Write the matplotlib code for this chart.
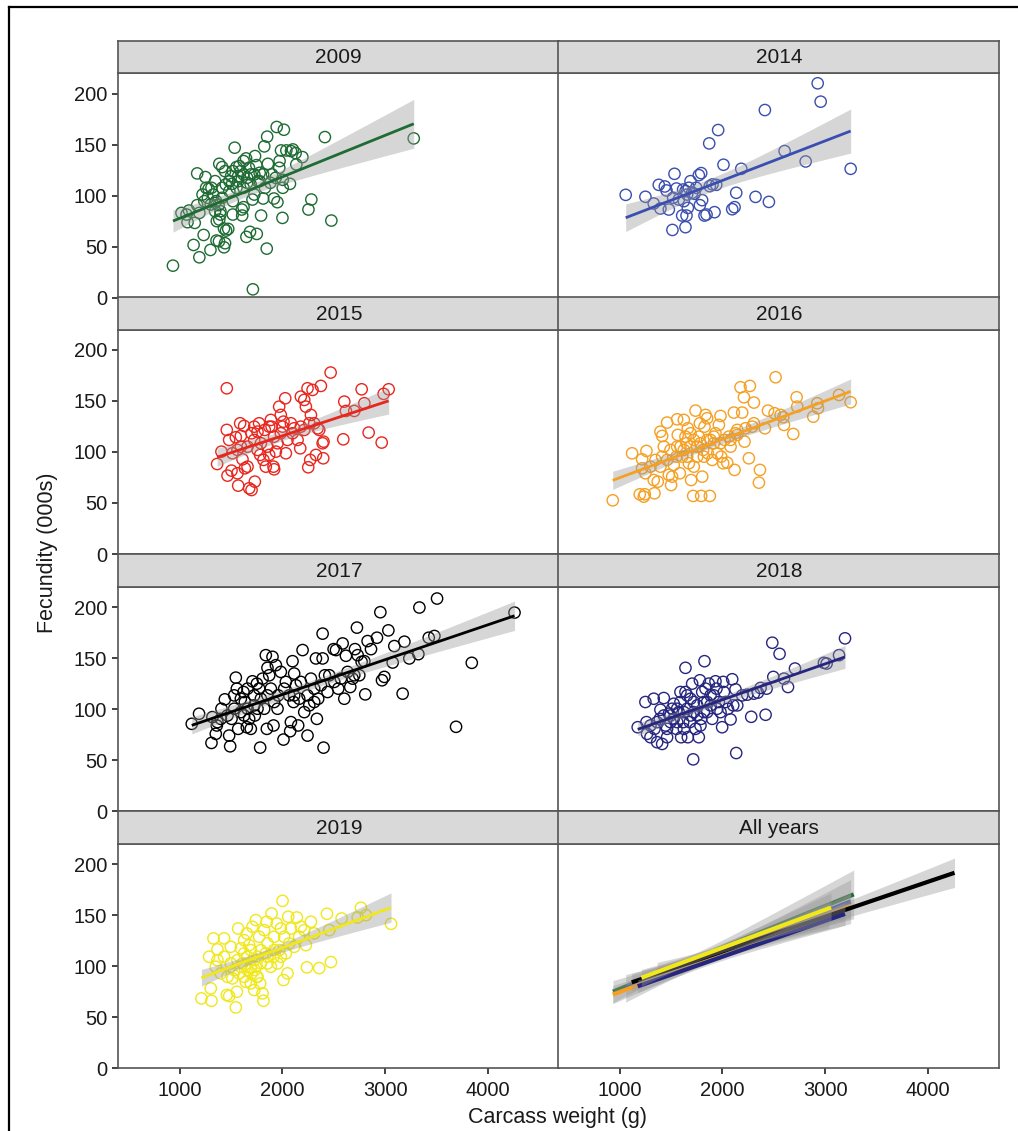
import matplotlib.pyplot as plt
import numpy as np
from matplotlib.lines import Line2D

plt.rcParams["font.family"] = ["Liberation Sans", "DejaVu Sans"]

# carcass weight (g) and fecundity (000s) per sampling year
wt_2009 = [934, 1017, 1066, 1090, 1076, 1146, 1170, 1250, 1135, 1191, 1233, 1299, 1358, 1382,
           1431, 1441, 1451, 1431, 1472, 1170, 1191, 1222, 1257, 1281, 1309, 1344, 1385, 1413,
           1441, 1483, 1510, 1535, 1552, 1580, 1594, 1621, 1646, 1674, 1656, 1691, 1733, 1746,
           1778, 1823, 1851, 1858, 1899, 1944, 2014, 1986, 2038, 2083, 2101, 2128, 2135, 2194,
           1972, 2003, 2073, 2003, 1934, 1969, 1917, 1951, 1812, 1708, 1726, 1621, 1604, 1517,
           1608, 1792, 2000, 1649, 1684, 1750, 1847, 1712, 2253, 2281, 2476, 2413, 3278, 1354,
           1378, 1396, 1326, 1274, 1240, 1483, 1552, 1517, 1413, 1448, 1691, 1760, 1830, 1882,
           1569, 1500, 1396, 1361, 1385, 1344, 1302, 1517, 1569, 1621, 1656, 1726, 1778, 1812,
           1621, 1413, 1344]
fec_2009 = [31.4, 83.1, 81.5, 85.4, 74.0, 73.3, 121.8, 118.2, 51.7, 39.6, 61.5, 46.8, 56.0, 55.3,
            49.4, 53.4, 65.8, 67.8, 67.4, 90.7, 83.1, 101.1, 107.7, 106.7, 107.7, 114.2, 131.2, 128.0,
            124.0, 114.2, 111.6, 147.0, 128.0, 129.0, 124.0, 133.9, 136.5, 127.3, 117.5, 120.8, 138.8, 129.9,
            122.4, 148.3, 157.8, 131.2, 120.8, 167.3, 164.6, 144.3, 144.3, 143.7, 145.3, 141.7, 130.6, 137.8,
            133.9, 115.5, 111.6, 107.7, 117.5, 127.3, 97.2, 93.6, 97.2, 96.2, 101.1, 88.7, 86.4, 81.5,
            80.5, 80.5, 78.2, 59.6, 64.5, 62.5, 48.1, 8.2, 86.4, 96.2, 75.6, 157.4, 156.1, 94.6,
            90.7, 84.8, 101.1, 97.9, 94.6, 104.4, 107.7, 94.6, 107.7, 111.0, 111.0, 114.2, 107.7, 112.6,
            119.1, 119.1, 81.5, 75.0, 76.6, 84.8, 91.3, 124.0, 114.2, 120.8, 112.6, 120.8, 114.2, 120.8,
            107.7, 97.9, 92.9]

wt_2014 = [1058, 1250, 1331, 1380, 1439, 1455, 1533, 1552, 1617, 1640, 1656, 1689, 1705, 1728,
           1770, 1793, 1520, 1478, 1396, 1608, 1650, 1640, 1513, 1663, 1780, 1802, 1825, 1845,
           1923, 1877, 1903, 1939, 1871, 1958, 2010, 2134, 2183, 2095, 2118, 2322, 2452, 2413,
           2605, 2810, 2927, 2956, 3248, 1624, 1575, 1673, 1744]
fec_2014 = [100.8, 98.9, 92.3, 110.6, 109.0, 105.1, 121.4, 107.0, 106.0, 104.4, 101.1, 114.2, 102.8, 101.8,
            120.1, 122.1, 97.9, 86.4, 87.4, 80.5, 80.5, 69.1, 66.4, 88.0, 90.7, 95.6, 80.5, 81.5,
            83.8, 109.3, 111.0, 110.6, 151.2, 164.3, 130.3, 102.8, 126.3, 86.7, 88.7, 98.8, 93.9, 183.9,
            143.7, 133.5, 210.1, 192.1, 126.3, 94.6, 96.2, 107.7, 107.7]

wt_2015 = [1364, 1406, 1458, 1458, 1465, 1481, 1504, 1546, 1562, 1569, 1588, 1595, 1611, 1627,
           1634, 1660, 1676, 1699, 1731, 1699, 1725, 1757, 1773, 1783, 1815, 1828, 1838, 1871,
           1887, 1894, 1913, 1919, 1936, 1952, 1968, 1984, 2001, 2010, 2027, 2033, 2049, 2082,
           2098, 2114, 2147, 2173, 2179, 2212, 2228, 2244, 2251, 2270, 2277, 2293, 2309, 2326,
           2342, 2358, 2374, 2391, 2397, 2400, 2469, 2592, 2602, 2618, 2699, 2771, 2797, 2839,
           2966, 2985, 3034, 1725, 1790, 1854, 1919, 1660, 1562, 1513, 1757, 1984, 2179, 2212,
           2261, 1871, 1595]
fec_2015 = [88.2, 100.3, 121.6, 162.4, 76.8, 111.8, 81.7, 114.4, 79.1, 67.0, 128.1, 115.7, 92.8, 125.5,
            84.0, 85.6, 64.4, 62.7, 70.9, 118.3, 124.8, 119.9, 128.1, 97.1, 92.2, 121.6, 85.6, 97.1,
            131.4, 124.8, 85.6, 83.0, 100.3, 108.5, 144.4, 136.3, 124.8, 129.7, 152.6, 98.7, 111.8, 128.1,
            118.3, 123.2, 111.8, 103.6, 154.2, 151.0, 144.4, 162.4, 85.0, 92.2, 136.3, 160.8, 128.1, 97.1,
            123.2, 121.6, 164.7, 108.5, 93.8, 110.1, 177.8, 112.4, 149.3, 140.2, 140.2, 161.4, 147.7, 119.0,
            109.2, 156.9, 161.4, 111.8, 108.5, 105.2, 115.0, 105.2, 102.0, 98.7, 102.0, 118.3, 124.8, 121.6,
            128.1, 124.8, 105.2]

wt_2016 = [932, 1120, 1195, 1218, 1234, 1244, 1260, 1218, 1250, 1331, 1338, 1370, 1348, 1396,
           1413, 1429, 1413, 1461, 1478, 1500, 1510, 1526, 1552, 1559, 1565, 1585, 1608, 1624,
           1640, 1650, 1663, 1673, 1689, 1695, 1715, 1721, 1738, 1754, 1770, 1780, 1793, 1803,
           1812, 1825, 1835, 1851, 1858, 1877, 1884, 1900, 1916, 1932, 1949, 1965, 1981, 1988,
           2007, 2020, 2046, 2062, 2079, 2111, 2118, 2127, 2144, 2176, 2192, 2209, 2215, 2225,
           2257, 2267, 2290, 2306, 2306, 2365, 2355, 2413, 2443, 2517, 2508, 2566, 2592, 2599,
           2689, 2722, 2728, 2884, 2923, 2930, 3135, 3248, 1559, 1494, 1624, 1786, 1851, 1916,
           1721, 1689, 1981, 2144, 2079, 1461, 1299, 1396, 1591, 1754, 1819, 1656]
fec_2016 = [52.6, 98.7, 58.5, 92.8, 56.2, 58.5, 101.0, 84.0, 79.1, 72.5, 59.5, 70.9, 92.2, 119.9,
            115.7, 105.2, 95.4, 128.8, 77.5, 67.6, 75.8, 87.3, 95.4, 132.0, 116.7, 79.1, 95.4, 131.4,
            115.0, 108.5, 123.2, 88.9, 105.2, 72.5, 56.9, 85.6, 140.5, 95.4, 115.0, 128.1, 56.9, 75.8,
            102.0, 124.8, 136.3, 133.0, 98.7, 56.9, 111.8, 92.2, 108.5, 118.3, 98.7, 126.5, 135.3, 95.4,
            88.9, 111.8, 89.5, 115.0, 111.8, 138.6, 82.4, 118.3, 116.7, 163.4, 138.6, 153.6, 110.1, 123.2,
            93.8, 164.7, 124.8, 148.4, 128.1, 82.4, 69.9, 123.2, 140.5, 173.2, 137.9, 136.3, 134.0, 126.5,
            117.6, 153.6, 144.4, 134.6, 147.7, 142.8, 155.9, 148.7, 105.2, 102.0, 102.0, 108.5, 111.8, 115.0,
            111.8, 118.3, 108.5, 121.6, 105.2, 92.2, 85.6, 85.6, 105.2, 105.2, 95.4, 95.4]

wt_2017 = [1117, 1188, 1318, 1309, 1351, 1361, 1406, 1439, 1481, 1491, 1504, 1530, 1546, 1556,
           1569, 1595, 1621, 1634, 1653, 1676, 1692, 1708, 1725, 1731, 1751, 1773, 1783, 1806,
           1822, 1838, 1848, 1854, 1871, 1887, 1903, 1913, 1919, 1936, 1958, 1984, 2010, 2033,
           2066, 2075, 2082, 2098, 2108, 2114, 2131, 2153, 2163, 2179, 2196, 2212, 2244, 2261,
           2277, 2309, 2326, 2335, 2348, 2374, 2391, 2391, 2400, 2413, 2439, 2456, 2498, 2521,
           2543, 2586, 2602, 2618, 2634, 2660, 2683, 2706, 2725, 2732, 2748, 2771, 2797, 2806,
           2829, 2862, 2920, 2953, 2969, 2992, 3031, 3073, 3089, 3170, 3187, 3235, 3323, 3333,
           3424, 3479, 3505, 3690, 3843, 4259, 1660, 1725, 1790, 1854, 1595, 1465, 1400, 1367,
           1660, 1757, 1952, 2017, 2114, 2244, 2309, 2504, 2569, 2699, 1627, 1530]
fec_2017 = [85.7, 95.6, 92.3, 67.0, 75.9, 84.1, 100.5, 109.7, 74.2, 63.7, 90.6, 113.6, 131.0, 120.2,
            80.8, 97.2, 116.9, 107.1, 82.4, 90.6, 80.8, 127.4, 113.6, 93.9, 125.1, 120.2, 62.4, 130.0,
            100.5, 153.0, 80.8, 140.6, 133.3, 120.2, 151.4, 84.1, 107.1, 143.2, 113.6, 136.6, 70.3, 126.8,
            113.6, 78.5, 87.4, 147.1, 107.1, 135.0, 123.5, 84.1, 110.3, 126.8, 158.0, 97.2, 74.2, 103.8,
            130.0, 107.1, 149.8, 90.6, 110.3, 123.5, 174.1, 149.8, 62.4, 133.3, 116.9, 133.3, 158.9, 158.0,
            120.2, 164.5, 110.3, 152.4, 136.6, 121.8, 130.0, 158.9, 180.0, 153.0, 133.3, 146.5, 147.1, 114.6,
            166.8, 158.9, 170.1, 195.1, 128.4, 131.7, 177.3, 145.8, 161.9, 115.3, 166.2, 149.8, 154.0, 199.7,
            170.1, 171.8, 208.5, 82.8, 145.5, 194.7, 100.5, 103.8, 110.3, 113.6, 110.3, 93.9, 90.6, 87.4,
            120.2, 100.5, 100.5, 120.2, 113.6, 113.6, 120.2, 126.8, 130.0, 133.3, 93.9, 100.5]

wt_2018 = [1175, 1250, 1260, 1266, 1299, 1331, 1338, 1364, 1390, 1396, 1413, 1429, 1445, 1461,
           1478, 1494, 1510, 1526, 1552, 1575, 1591, 1598, 1617, 1640, 1640, 1656, 1663, 1682,
           1689, 1705, 1715, 1721, 1738, 1754, 1770, 1780, 1793, 1803, 1819, 1825, 1835, 1851,
           1867, 1884, 1900, 1916, 1932, 1942, 1965, 1981, 1997, 2007, 2014, 2030, 2053, 2079,
           2095, 2105, 2127, 2134, 2144, 2192, 2241, 2280, 2306, 2345, 2371, 2420, 2430, 2485,
           2495, 2556, 2599, 2638, 2706, 2988, 3014, 3135, 3193, 1429, 1494, 1559, 1624, 1689,
           1754, 1819, 1559, 1624, 1461, 1364, 1299, 1721, 1851, 1949, 1656, 1591, 1526, 1786,
           1884]
fec_2018 = [82.4, 107.1, 87.4, 75.9, 72.6, 110.3, 80.8, 67.7, 90.6, 99.5, 66.0, 111.0, 84.1, 72.6,
            95.6, 87.4, 100.5, 105.4, 80.8, 97.2, 116.9, 72.6, 87.4, 116.9, 140.6, 100.5, 72.6, 87.4,
            110.3, 125.1, 50.9, 97.2, 80.8, 103.8, 72.6, 128.4, 90.6, 116.9, 107.1, 147.1, 120.2, 97.2,
            125.1, 103.8, 90.6, 113.6, 127.4, 120.2, 107.1, 97.2, 82.4, 126.8, 116.9, 107.1, 100.5, 90.0,
            129.4, 103.8, 119.5, 57.1, 103.8, 113.6, 114.3, 92.6, 115.3, 116.3, 120.9, 94.6, 120.2, 165.2,
            131.7, 154.3, 130.0, 121.8, 139.9, 145.5, 144.8, 153.0, 169.5, 93.9, 93.9, 100.5, 97.2, 93.9,
            93.9, 97.2, 87.4, 80.8, 80.8, 87.4, 84.1, 107.1, 107.1, 100.5, 113.6, 107.1, 90.6, 84.1,
            113.6]

wt_2019 = [1211, 1302, 1309, 1286, 1328, 1351, 1367, 1400, 1432, 1458, 1481, 1497, 1513, 1546,
           1556, 1569, 1578, 1595, 1611, 1627, 1643, 1653, 1660, 1676, 1692, 1699, 1708, 1725,
           1731, 1741, 1751, 1757, 1773, 1783, 1790, 1806, 1815, 1822, 1838, 1848, 1854, 1887,
           1894, 1913, 1919, 1945, 1952, 1968, 1984, 2001, 2010, 2017, 2033, 2049, 2056, 2066,
           2082, 2114, 2140, 2163, 2179, 2212, 2228, 2238, 2277, 2309, 2358, 2433, 2456, 2472,
           2576, 2732, 2764, 2813, 3057, 1367, 1432, 1497, 1562, 1595, 1660, 1725, 1530, 1465,
           1790, 1854, 1919, 1984, 1627, 1692, 1741, 1854, 1757, 1692, 1627]
fec_2019 = [68.5, 78.3, 66.2, 109.3, 127.3, 99.5, 116.5, 93.0, 127.3, 71.8, 70.8, 119.1, 88.1, 59.7,
            75.0, 137.0, 93.0, 117.5, 102.8, 125.6, 84.8, 132.2, 109.3, 120.7, 99.5, 93.0, 138.7, 76.7,
            96.3, 145.2, 89.7, 109.3, 128.9, 83.2, 102.8, 73.4, 66.2, 135.4, 112.6, 143.6, 122.4, 99.5,
            151.7, 109.3, 128.9, 141.9, 102.8, 115.8, 137.0, 164.1, 86.5, 128.9, 112.6, 93.0, 148.5, 122.4,
            137.0, 119.1, 147.8, 128.9, 138.7, 135.4, 120.7, 98.9, 143.6, 132.2, 98.2, 151.4, 135.4, 104.1,
            146.8, 147.8, 157.3, 150.1, 141.6, 106.0, 109.3, 102.8, 106.0, 99.5, 96.3, 106.0, 96.3, 89.7,
            115.8, 109.3, 115.8, 109.3, 112.6, 115.8, 99.5, 102.8, 89.7, 83.2, 89.7]

years = ["2009", "2014", "2015", "2016", "2017", "2018", "2019"]
weights = [wt_2009, wt_2014, wt_2015, wt_2016, wt_2017, wt_2018, wt_2019]
fecundity = [fec_2009, fec_2014, fec_2015, fec_2016, fec_2017, fec_2018, fec_2019]
colours = ["#1e6b33", "#3a4eaf", "#e8261e", "#f5a023", "#000000", "#26267f", "#f0e81a"]

W, H = 1018, 1131
fig = plt.figure(figsize=(W / 100, H / 100), dpi=100)

border = "#555555"
col_left = [118.3, 558.3]
col_width = 441.0
row_top = [40.7, 297.0, 554.3, 811.3]
strip_h = 32.5
panel_h = 224.5


def lm_fit(x, y, xs):
    """Least-squares line with 95% confidence band, as geom_smooth(method='lm')."""
    x = np.asarray(x, float)
    y = np.asarray(y, float)
    n = len(x)
    b, a = np.polyfit(x, y, 1)
    resid = y - (a + b * x)
    s = np.sqrt(np.sum(resid ** 2) / (n - 2))
    sxx = np.sum((x - x.mean()) ** 2)
    df = n - 2
    t = 1.96 + 2.37 / df
    fit = a + b * xs
    se = s * np.sqrt(1.0 / n + (xs - x.mean()) ** 2 / sxx)
    return fit, fit - t * se, fit + t * se


def draw_smooth(ax, x, y, colour, lw, z=2):
    # ribbon first, then the line, so later groups sit over earlier ones
    xs = np.linspace(min(x), max(x), 80)
    fit, lo, hi = lm_fit(x, y, xs)
    ax.fill_between(xs, lo, hi, color="#999999", alpha=0.4, lw=0, zorder=z)
    ax.plot(xs, fit, color=colour, lw=lw, solid_capstyle="butt", zorder=z + 0.5)


panels = years + ["All years"]
for i, name in enumerate(panels):
    row, col = divmod(i, 2)
    x0 = col_left[col]
    top = row_top[row]
    ax = fig.add_axes([x0 / W, 1 - (top + strip_h + panel_h) / H, col_width / W, panel_h / H])
    sax = fig.add_axes([x0 / W, 1 - (top + strip_h) / H, col_width / W, strip_h / H])

    # facet strip
    sax.set_facecolor("#d9d9d9")
    sax.set_xticks([])
    sax.set_yticks([])
    for sp in sax.spines.values():
        sp.set_color(border)
        sp.set_linewidth(1.2)
    sax.text(0.5, 0.47, name, ha="center", va="center", fontsize=15, color="#1a1a1a",
             transform=sax.transAxes)

    if name == "All years":
        for j, (x, y, c) in enumerate(zip(weights, fecundity, colours)):
            draw_smooth(ax, x, y, c, 3.0, z=2 + j)
    else:
        k = years.index(name)
        ax.scatter(weights[k], fecundity[k], s=66, facecolors="none", edgecolors=colours[k],
                   linewidths=1.0, zorder=1)
        draw_smooth(ax, weights[k], fecundity[k], colours[k], 2.0)

    ax.set_xlim(402, 4695)
    ax.set_ylim(0, 220)
    ax.set_xticks([1000, 2000, 3000, 4000])
    ax.set_yticks([0, 50, 100, 150, 200])
    for sp in ax.spines.values():
        sp.set_color(border)
        sp.set_linewidth(1.2)
    ax.tick_params(axis="both", colors="#333333", width=1.3, length=4.5, pad=3.5,
                   labelsize=14.5, labelcolor="#1a1a1a")
    ax.tick_params(axis="x", pad=5)
    if col == 1:
        ax.tick_params(axis="y", left=False, labelleft=False)
    if row < 3:
        ax.tick_params(axis="x", bottom=False, labelbottom=False)

fig.text(558 / W, 1 - 1118 / H, "Carcass weight (g)", ha="center", va="center", fontsize=15.5,
         color="#1a1a1a")
fig.text(48 / W, 1 - 553 / H, "Fecundity (000s)", ha="center", va="center", fontsize=15.5,
         rotation=90, color="#1a1a1a")

# outer frame (top and left edges)
fig.add_artist(Line2D([9 / W, 1], [1 - 7 / H, 1 - 7 / H], color="black", lw=1.6))
fig.add_artist(Line2D([9 / W, 9 / W], [0, 1 - 7 / H], color="black", lw=1.6))

fig.savefig("out.png", dpi=100)
